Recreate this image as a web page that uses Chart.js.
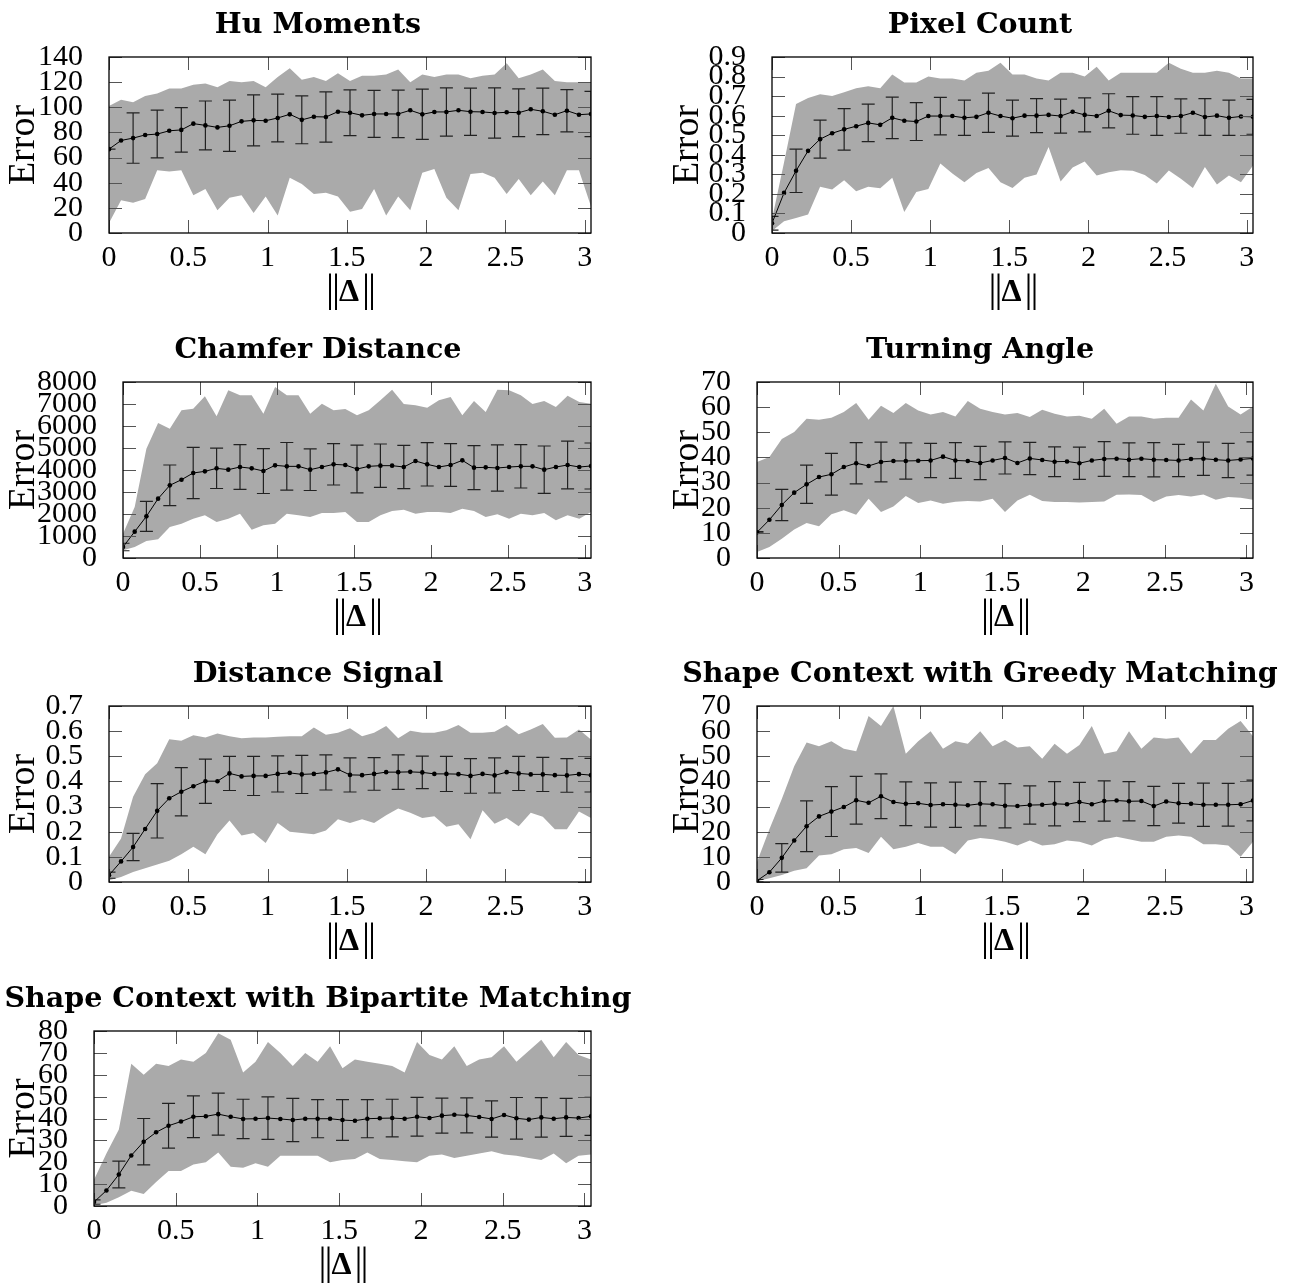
<!DOCTYPE html>
<html>
<head>
<meta charset="utf-8">
<script src="https://cdn.jsdelivr.net/npm/chart.js@4.4.1/dist/chart.umd.min.js"></script>
<style>
  body { margin: 0; background: #fff; width: 1292px; height: 1283px; position: relative; overflow: hidden; }
  canvas { position: absolute; }
  .ttl { position: absolute; width: 800px; text-align: center; font: bold 28.5px "DejaVu Serif"; line-height: 28px; white-space: nowrap; color: #000; }
  .xl { position: absolute; width: 200px; text-align: center; font: 36px "Liberation Serif"; line-height: 36px; color: #000; white-space: nowrap; }
  .xl .bar { font-size: 40px; letter-spacing: -2px; }
  .xl b { font-size: 32px; padding: 0 3px 0 1px; }
</style>
</head>
<body>
<script>
// x positions of the samples (||Delta||), shared by all panels
const xVals = [0, 0.076, 0.152, 0.228, 0.304, 0.38, 0.456, 0.532, 0.608, 0.684, 0.76, 0.836, 0.912, 0.988,
  1.064, 1.14, 1.216, 1.292, 1.368, 1.444, 1.52, 1.596, 1.672, 1.748, 1.824, 1.9, 1.976, 2.052, 2.128, 2.204,
  2.28, 2.356, 2.432, 2.508, 2.584, 2.66, 2.736, 2.812, 2.888, 2.964, 3.04];
const xTicks = [0, 0.5, 1, 1.5, 2, 2.5, 3];

// Hu Moments
const huTicks = [0, 20, 40, 60, 80, 100, 120, 140];
const huMean = [66.7, 73.6, 75.5, 78, 78.7, 81.3, 82, 87, 85.6, 84, 85.3, 88.8, 89.6, 89.3, 91.5, 94.4, 90, 92.5, 92.3, 96.5,
  95.7, 93.6, 94.7, 94.7, 94.7, 97.6, 94.4, 96.3, 96.3, 97.6, 96.5, 96.3, 95.5, 96, 95.7, 98.4, 96.8, 94.1, 97.3, 94.1, 94.7];
const huMax = [101, 106, 104, 109, 111, 115, 115, 118, 119, 116, 121, 120, 121, 116, 124, 131, 122, 124, 121, 127,
  121, 125, 125, 126, 130, 120, 126, 124, 126, 126, 123, 125, 126, 135, 123, 126, 130, 121, 120, 120, 120];
const huMin = [8, 26, 24, 27, 50, 49, 50, 30, 35, 18, 28, 30, 16, 29, 14, 44, 39, 31, 32, 29,
  17, 19, 35, 14, 29, 18, 48, 51, 28, 18, 47, 48, 44, 31, 43, 30, 41, 30, 50, 50, 21];
const huStd = [0, 20, 19, 17.7, 19.4, 20.4, 20.3, 19, 19, 20, 18.2, 18.7, 18.9, 20, 19.2, 18.8, 20, 19, 18.5, 16.8, 18];

// Pixel Count
const pxTicks = [0, 0.1, 0.2, 0.3, 0.4, 0.5, 0.6, 0.7, 0.8, 0.9];
const pxMean = [0.05, 0.205, 0.318, 0.42, 0.48, 0.51, 0.53, 0.546, 0.563, 0.553, 0.589, 0.574, 0.57, 0.598, 0.598, 0.598,
  0.589, 0.594, 0.615, 0.598, 0.587, 0.6, 0.6, 0.604, 0.598, 0.62, 0.604, 0.598, 0.625, 0.603, 0.601, 0.594, 0.598,
  0.593, 0.598, 0.615, 0.593, 0.6, 0.589, 0.596, 0.594];
const pxMax = [0.07, 0.36, 0.66, 0.69, 0.71, 0.7, 0.72, 0.74, 0.75, 0.74, 0.81, 0.77, 0.77, 0.8, 0.79, 0.79, 0.78, 0.82,
  0.83, 0.87, 0.81, 0.81, 0.79, 0.78, 0.82, 0.82, 0.8, 0.85, 0.78, 0.82, 0.82, 0.82, 0.82, 0.87, 0.84, 0.82, 0.82, 0.83,
  0.82, 0.79, 0.79];
const pxMin = [0.01, 0.06, 0.077, 0.094, 0.236, 0.222, 0.27, 0.213, 0.236, 0.229, 0.282, 0.108, 0.21, 0.225, 0.355, 0.304,
  0.26, 0.307, 0.333, 0.26, 0.23, 0.282, 0.299, 0.44, 0.263, 0.335, 0.365, 0.294, 0.311, 0.321, 0.318, 0.297, 0.253,
  0.319, 0.277, 0.23, 0.338, 0.248, 0.294, 0.26, 0.345];
const pxStd = [0.035, 0.111, 0.097, 0.106, 0.096, 0.106, 0.097, 0.096, 0.09, 0.1, 0.092, 0.087, 0.087, 0.087, 0.087,
  0.096, 0.099, 0.088, 0.094, 0.09, 0.089];

// Chamfer Distance
const chTicks = [0, 1000, 2000, 3000, 4000, 5000, 6000, 7000, 8000];
const chMean = [500, 1197, 1894, 2697, 3303, 3560, 3863, 3939, 4075, 4015, 4136, 4075, 3954, 4212, 4166, 4166, 4015,
  4136, 4257, 4227, 4045, 4166, 4197, 4197, 4136, 4409, 4257, 4136, 4227, 4439, 4106, 4121, 4091, 4136, 4166, 4166,
  4015, 4136, 4227, 4136, 4182];
const chMax = [1106, 2318, 4969, 6136, 5878, 6712, 6787, 7348, 6439, 7620, 7393, 7393, 6560, 7772, 7393, 7393, 6560,
  7015, 6712, 6772, 6484, 6712, 7166, 7651, 7000, 6939, 6833, 7166, 7318, 6484, 7136, 6636, 7651, 7620, 7400, 7000,
  7136, 6863, 7378, 7090, 7015];
const chMin = [350, 500, 773, 848, 1409, 1560, 1788, 1939, 1636, 1788, 2015, 1288, 1485, 1560, 2015, 1939, 1863, 2045,
  2045, 2091, 1636, 1636, 1939, 2136, 2197, 2015, 2091, 2091, 2045, 2242, 2136, 1863, 1985, 1788, 2015, 1939, 2045,
  1712, 1939, 1788, 2091];
const chStd = [170, 680, 925, 1165, 917, 1015, 1022, 1083, 947, 939, 1083, 985, 985, 985, 970, 1000, 1053, 985, 1076,
  1083, 1045];

// Turning Angle
const taTicks = [0, 10, 20, 30, 40, 50, 60, 70];
const taMean = [10.2, 15.2, 21.1, 26, 29.3, 32.2, 33.3, 36.2, 37.7, 36.6, 38.2, 38.6, 38.6, 38.7, 38.8, 40.3, 38.8, 38.6,
  37.8, 38.8, 39.8, 37.8, 39.6, 39, 38.3, 38.4, 37.7, 38.8, 39.4, 39.5, 39.1, 39.5, 39.1, 39, 38.8, 39.4, 39.5, 39.1,
  38.8, 39.2, 39.6];
const taMax = [38.2, 40.2, 47.3, 50.1, 55.4, 55, 55.8, 58.1, 61.6, 55, 60.6, 57.7, 61.6, 58.7, 57.1, 58.1, 56.3, 62.4,
  59.4, 58.1, 57.1, 57.7, 56.1, 59, 57.4, 56.3, 56.6, 55.4, 59.4, 53.4, 56.3, 56.3, 55.4, 55.8, 55.8, 63, 58.7, 69.3,
  60.3, 57.1, 60.3];
const taMin = [2.4, 4.4, 7.7, 11.3, 13.9, 12.6, 17.4, 19, 17.2, 23.6, 18.3, 20.5, 24.7, 21.9, 22.9, 21.6, 22.4, 22.7,
  22.5, 23.6, 18.3, 22.9, 25.2, 22.7, 22.3, 22.3, 22.1, 22.3, 22.5, 25.2, 25.3, 25.1, 22.3, 24.5, 25.1, 24.5, 25.3,
  23.2, 24.3, 24, 23.2];
const taStd = [0.3, 6.2, 7.6, 8.3, 8.2, 7.9, 7.2, 6.8, 7.1, 6.6, 6.4, 6.4, 5.9, 6.4, 6.9, 6.7, 6.8, 6.4, 6.6, 6.8, 6.6];

// Distance Signal
const dsTicks = [0, 0.1, 0.2, 0.3, 0.4, 0.5, 0.6, 0.7];
const dsMean = [0.027, 0.082, 0.139, 0.211, 0.283, 0.333, 0.359, 0.381, 0.401, 0.401, 0.432, 0.42, 0.422, 0.422, 0.43,
  0.434, 0.428, 0.43, 0.436, 0.448, 0.426, 0.425, 0.43, 0.437, 0.437, 0.438, 0.436, 0.43, 0.43, 0.429, 0.422, 0.43,
  0.424, 0.437, 0.432, 0.428, 0.428, 0.425, 0.424, 0.429, 0.425];
const dsMax = [0.1, 0.173, 0.339, 0.429, 0.472, 0.568, 0.562, 0.584, 0.575, 0.591, 0.58, 0.572, 0.575, 0.575, 0.578,
  0.58, 0.58, 0.614, 0.586, 0.594, 0.612, 0.58, 0.594, 0.62, 0.572, 0.602, 0.594, 0.594, 0.604, 0.624, 0.594, 0.594,
  0.598, 0.624, 0.588, 0.607, 0.628, 0.574, 0.575, 0.607, 0.567];
const dsMin = [0.007, 0.02, 0.04, 0.055, 0.07, 0.085, 0.11, 0.14, 0.11, 0.19, 0.245, 0.185, 0.195, 0.155, 0.235, 0.2,
  0.195, 0.19, 0.205, 0.25, 0.235, 0.25, 0.235, 0.265, 0.292, 0.275, 0.255, 0.262, 0.22, 0.23, 0.17, 0.285, 0.232,
  0.255, 0.222, 0.275, 0.26, 0.21, 0.21, 0.28, 0.255];
const dsStd = [0.012, 0.054, 0.108, 0.096, 0.088, 0.068, 0.078, 0.072, 0.076, 0.07, 0.068, 0.065, 0.069, 0.065, 0.07,
  0.069, 0.07, 0.068, 0.068, 0.067, 0.067];

// Shape Context with Greedy Matching
const sgTicks = [0, 10, 20, 30, 40, 50, 60, 70];
const sgMean = [0.5, 3.9, 9.6, 16.5, 22.2, 26.1, 28, 29.8, 32.5, 31.5, 34.1, 31.8, 31.1, 31.3, 30.6, 30.9, 30.7, 30.5,
  31.1, 30.9, 30.3, 30.2, 30.6, 30.7, 31.1, 30.9, 31.8, 30.9, 32.2, 32.4, 32.1, 32.2, 30.2, 32, 31.3, 31.1, 30.7, 30.7,
  30.7, 30.9, 32.4];
const sgMax = [8, 21, 33, 46, 55.5, 54, 56, 53, 52, 66, 62, 70, 51, 56, 60, 53, 56, 55, 60, 54, 56.5, 53.5, 54, 49, 55,
  51, 54.5, 62, 51, 52, 60, 53, 57.5, 57, 57.5, 51, 56.5, 56.5, 61, 64, 58];
const sgMin = [0.3, 1.5, 2.8, 4.5, 5.5, 10.5, 11, 13, 13.5, 11.5, 18, 13, 14, 15.5, 14, 14, 11, 16.5, 17.5, 17, 16, 14.5,
  16.5, 14.5, 15, 16.5, 16, 14.5, 17, 18, 17, 16, 16, 18, 18.5, 18, 15, 15, 14.5, 10, 16];
const sgStd = [0.5, 5.7, 10.1, 9.9, 9.5, 8.9, 8.7, 8.8, 9, 8.8, 8.8, 7.6, 8.8, 7.8, 8, 7.8, 7.8, 7.9, 8.6, 8.5, 8.1];

// Shape Context with Bipartite Matching
const sbTicks = [0, 10, 20, 30, 40, 50, 60, 70, 80];
const sbMean = [1.8, 7.1, 14.4, 23.1, 29.4, 33.7, 36.7, 38.6, 40.8, 41, 42, 40.8, 39.8, 39.9, 40.2, 39.8, 39.3, 39.9,
  39.9, 39.9, 39.3, 39, 39.9, 40.1, 40.2, 39.9, 40.8, 40.2, 41.3, 41.7, 41.4, 40.7, 39.8, 41.6, 40.1, 39.5, 40.5, 39.9,
  40.5, 40.2, 41];
const sbMax = [12, 24, 35, 65, 60, 65, 64, 67, 66, 70, 79, 76, 61, 66, 75, 70, 64, 70, 66, 73, 63, 67, 66, 65, 64, 61,
  75, 69, 67, 73, 64, 67, 68, 73, 66, 71, 76, 68, 75, 69, 67];
const sbMin = [0.3, 1.5, 4, 7, 5.5, 11, 16, 16, 19, 20, 24.5, 18, 17.5, 19.5, 18, 23, 23, 23, 23, 20, 21, 21.5, 24.5,
  21.5, 21, 20.5, 20, 23, 23.5, 22, 23, 24, 25, 23.5, 23, 22, 21, 24, 19.5, 23, 23.5];
const sbStd = [1, 6.1, 10.6, 10.2, 9.5, 9.6, 9, 9.7, 9.9, 8.7, 9.3, 8.7, 8.6, 8.9, 8, 8, 8.3, 9.5, 9, 8.7, 8.7];

// layout: plot box [left, top, right, bottom] in page pixels, column 0/1
const panels = [
  { title: 'Hu Moments', mean: huMean, hi: huMax, lo: huMin, sd: huStd, yTicks: huTicks, box: [109, 57, 591, 233], col: 0 },
  { title: 'Pixel Count', mean: pxMean, hi: pxMax, lo: pxMin, sd: pxStd, yTicks: pxTicks, box: [772, 57, 1253, 233], col: 1 },
  { title: 'Chamfer Distance', mean: chMean, hi: chMax, lo: chMin, sd: chStd, yTicks: chTicks, box: [123, 382, 591, 558], col: 0 },
  { title: 'Turning Angle', mean: taMean, hi: taMax, lo: taMin, sd: taStd, yTicks: taTicks, box: [757, 382, 1253, 558], col: 1 },
  { title: 'Distance Signal', mean: dsMean, hi: dsMax, lo: dsMin, sd: dsStd, yTicks: dsTicks, box: [109, 706, 591, 882], col: 0 },
  { title: 'Shape Context with Greedy Matching', mean: sgMean, hi: sgMax, lo: sgMin, sd: sgStd, yTicks: sgTicks, box: [757, 706, 1253, 882], col: 1 },
  { title: 'Shape Context with Bipartite Matching', mean: sbMean, hi: sbMax, lo: sbMin, sd: sbStd, yTicks: sbTicks, box: [94, 1031, 591, 1206], col: 0 }
];
const colLeft = [0, 660];
const titleCx = [318, 980];
const yTitlePad = [5, 9];
const padTop = 20, padRight = 14, xAxisH = 46;
const tickFont = { family: 'Liberation Serif', size: 30 };

function toPts(vals) {
  return xVals.map((x, i) => ({ x: x, y: vals[i] }));
}

function makePanel(p) {
  const [L, T, R, B] = p.box;
  const left = colLeft[p.col];
  const yW = L - left;

  const cv = document.createElement('canvas');
  cv.width = R + padRight - left;
  cv.height = padTop + (B - T) + xAxisH;
  cv.style.left = left + 'px';
  cv.style.top = (T - padTop) + 'px';
  document.body.appendChild(cv);

  const ttl = document.createElement('div');
  ttl.className = 'ttl';
  ttl.textContent = p.title;
  ttl.style.left = (titleCx[p.col] - 400) + 'px';
  ttl.style.top = (T - 48) + 'px';
  document.body.appendChild(ttl);

  const xl = document.createElement('div');
  xl.className = 'xl';
  xl.innerHTML = '<span class="bar">||</span><b>\u0394</b><span class="bar">||</span>';
  xl.style.left = ((L + R) / 2 - 100) + 'px';
  xl.style.top = (B + 37) + 'px';
  document.body.appendChild(xl);

  // error bars (mean +- std) at every second sample, drawn before the mean line
  const errBars = {
    id: 'errBars',
    beforeDatasetDraw(chart, args) {
      if (args.index !== 0) return;
      const { ctx, chartArea: a, scales: { x, y } } = chart;
      ctx.save();
      ctx.beginPath();
      ctx.rect(a.left, a.top, a.width, a.height);
      ctx.clip();
      ctx.strokeStyle = '#222';
      ctx.lineWidth = 1.2;
      ctx.beginPath();
      p.sd.forEach((s, j) => {
        const i = j * 2;
        const px = x.getPixelForValue(xVals[i]);
        const top = y.getPixelForValue(p.mean[i] + s);
        const bot = y.getPixelForValue(p.mean[i] - s);
        ctx.moveTo(px, top); ctx.lineTo(px, bot);
        ctx.moveTo(px - 6.5, top); ctx.lineTo(px + 6.5, top);
        ctx.moveTo(px - 6.5, bot); ctx.lineTo(px + 6.5, bot);
      });
      ctx.stroke();
      ctx.restore();
    }
  };

  // box round the plot and inward ticks on all four sides
  const frame = {
    id: 'frame',
    afterDraw(chart) {
      const { ctx, chartArea: a, scales: { x, y } } = chart;
      ctx.save();
      ctx.strokeStyle = '#555';
      ctx.lineWidth = 1;
      ctx.beginPath();
      xTicks.forEach(v => {
        const px = Math.round(x.getPixelForValue(v)) + 0.5;
        ctx.moveTo(px, a.bottom); ctx.lineTo(px, a.bottom - 13);
        ctx.moveTo(px, a.top); ctx.lineTo(px, a.top + 13);
      });
      p.yTicks.forEach(v => {
        const py = Math.round(y.getPixelForValue(v)) + 0.5;
        ctx.moveTo(a.left, py); ctx.lineTo(a.left + 13, py);
        ctx.moveTo(a.right, py); ctx.lineTo(a.right - 13, py);
      });
      ctx.stroke();
      ctx.strokeStyle = '#000';
      ctx.lineWidth = 1.3;
      ctx.strokeRect(a.left, a.top, a.width, a.height);
      ctx.restore();
    }
  };

  new Chart(cv, {
    type: 'line',
    data: {
      datasets: [
        { data: toPts(p.mean), borderColor: '#000', borderWidth: 1, pointRadius: 2.3, pointBackgroundColor: '#000',
          pointBorderWidth: 0, fill: false, tension: 0 },
        { data: toPts(p.hi), borderWidth: 0, borderColor: 'rgba(0,0,0,0)', pointRadius: 0, fill: '+1',
          backgroundColor: '#aaaaaa', tension: 0 },
        { data: toPts(p.lo), borderWidth: 0, borderColor: 'rgba(0,0,0,0)', pointRadius: 0, fill: false, tension: 0 }
      ]
    },
    options: {
      responsive: false,
      animation: false,
      events: [],
      layout: { padding: { top: padTop, right: padRight, left: 0, bottom: 0 } },
      plugins: { legend: { display: false }, tooltip: { enabled: false } },
      scales: {
        x: {
          type: 'linear', min: 0, max: 3.04,
          afterBuildTicks: s => { s.ticks = xTicks.map(v => ({ value: v })); },
          afterFit: s => { s.height = xAxisH; s.paddingLeft = 0; s.paddingRight = 0; },
          grid: { display: false, drawTicks: false, tickLength: 0 },
          border: { display: false },
          ticks: { autoSkip: false, maxRotation: 0, padding: 7, color: '#000', font: tickFont, callback: v => String(v) }
        },
        y: {
          type: 'linear', min: 0, max: p.yTicks[p.yTicks.length - 1],
          afterBuildTicks: s => { s.ticks = p.yTicks.map(v => ({ value: v })); },
          afterFit: s => { s.width = yW; s.paddingTop = 0; s.paddingBottom = 0; },
          grid: { display: false, drawTicks: false, tickLength: 0 },
          border: { display: false },
          ticks: { autoSkip: false, padding: 26, color: '#000', font: tickFont, callback: v => String(v) },
          title: { display: true, text: 'Error', color: '#000',
            font: { family: 'Liberation Serif', size: 38, lineHeight: 1 },
            padding: { top: yTitlePad[p.col], bottom: 0 } }
        }
      }
    },
    plugins: [errBars, frame]
  });
}

panels.forEach(makePanel);
</script>
</body>
</html>
